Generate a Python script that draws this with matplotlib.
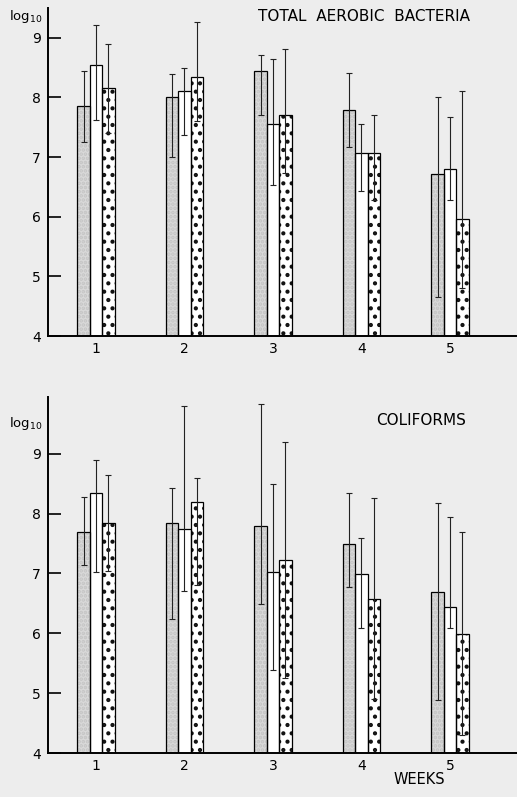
import matplotlib.pyplot as plt
import numpy as np

weeks = [1, 2, 3, 4, 5]

# total aerobic bacteria: mean, upper end, lower end of the error bar
tab_mean = [[7.85, 8.55, 8.15],
            [8.00, 8.10, 8.35],
            [8.44, 7.55, 7.70],
            [7.79, 7.07, 7.07],
            [6.71, 6.80, 5.96]]
tab_hi = [[8.44, 9.22, 8.90],
          [8.40, 8.50, 9.26],
          [8.71, 8.65, 8.82],
          [8.41, 7.55, 7.70],
          [8.00, 7.67, 8.11]]
tab_lo = [[7.25, 7.63, 7.40],
          [7.00, 7.37, 7.60],
          [7.70, 6.53, 6.73],
          [7.17, 6.43, 6.28],
          [4.65, 6.28, 4.80]]

# coliforms
col_mean = [[7.70, 8.35, 7.85],
            [7.85, 7.75, 8.20],
            [7.80, 7.03, 7.23],
            [7.50, 6.99, 6.57],
            [6.69, 6.44, 5.99]]
col_hi = [[8.28, 8.90, 8.65],
          [8.43, 9.80, 8.60],
          [9.84, 8.50, 9.20],
          [8.35, 7.60, 8.26],
          [8.18, 7.95, 7.70]]
col_lo = [[7.14, 7.03, 7.05],
          [6.24, 6.70, 6.80],
          [6.49, 5.39, 5.26],
          [6.78, 6.09, 4.90],
          [4.88, 6.09, 4.30]]

paper = '#ededed'
w = 0.14
# face, hatch colour, hatch
fills = [('#d9d9d9', '#c4c4c4', '....'), ('white', 'white', ''), ('white', '#111111', '..')]


def panel(ax, mean, hi, lo, top, title, tx, ty, ly):
    mean = np.array(mean)
    hi = np.array(hi)
    lo = np.array(lo)
    x = np.array(weeks, dtype=float)
    for j in range(3):
        xs = x + (j - 1) * w
        fc, hc, hatch = fills[j]
        ax.bar(xs, mean[:, j] - 4, bottom=4, width=w, facecolor=fc,
               edgecolor=hc, linewidth=0, hatch=hatch, zorder=2)
        ax.bar(xs, mean[:, j] - 4, bottom=4, width=w, fill=False,
               edgecolor='black', linewidth=0.9, zorder=2.5)
        ax.errorbar(xs, mean[:, j], yerr=[mean[:, j] - lo[:, j], hi[:, j] - mean[:, j]],
                    fmt='none', ecolor='#222222', elinewidth=0.8, capsize=2,
                    capthick=0.8, zorder=3)
    ax.set_xlim(0.458, 5.757)
    ax.set_ylim(4, top)
    ax.set_xticks(weeks)
    ax.set_yticks([4, 5, 6, 7, 8, 9])
    ax.tick_params(axis='x', length=0, labelsize=10, pad=4)
    ax.tick_params(axis='y', direction='in', length=9, width=1.2, labelsize=10, pad=5)
    for s in ['top', 'right']:
        ax.spines[s].set_visible(False)
    for s in ['left', 'bottom']:
        ax.spines[s].set_linewidth(1.4)
    ax.set_facecolor(paper)
    ax.text(tx, ty, title, transform=ax.transAxes, fontsize=11, ha='left', va='center')
    ax.text(-0.083, ly, r'log$_{10}$', transform=ax.transAxes, fontsize=9.5,
            ha='left', va='center')


plt.rcParams['hatch.linewidth'] = 1.8
plt.rcParams['font.family'] = ['DejaVu Sans']

fig = plt.figure(figsize=(5.17, 7.97), dpi=100, facecolor=paper)
ax1 = fig.add_axes([0.0928, 0.5784, 0.9072, 0.4116])
ax2 = fig.add_axes([0.0928, 0.0552, 0.9072, 0.4467])

panel(ax1, tab_mean, tab_hi, tab_lo, 9.5, 'TOTAL  AEROBIC  BACTERIA', 0.447, 0.973, 0.975)
panel(ax2, col_mean, col_hi, col_lo, 9.95, 'COLIFORMS', 0.70, 0.935, 0.925)

fig.text(0.812, 0.022, 'WEEKS', fontsize=10.5, ha='center', va='center')

plt.savefig('out.png', dpi=100, facecolor=paper)
